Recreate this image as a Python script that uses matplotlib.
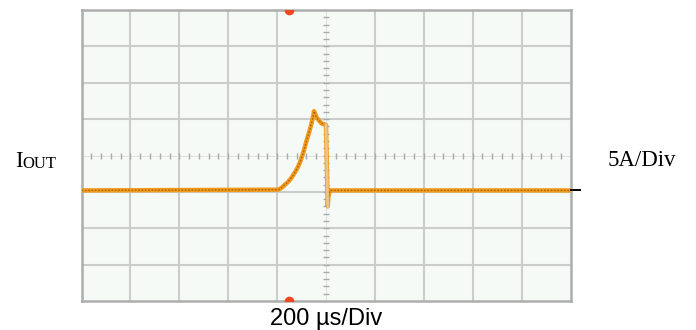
import matplotlib
matplotlib.use("Agg")
import matplotlib.pyplot as plt
import numpy as np

# Output current capture: time in microseconds, current in amperes
time_us = [-1000, -195, -180, -168, -157, -147, -136, -125, -115, -106, -92,
           -79, -68, -58, -52, -49, -44, -40, -31, -18, -8, 0, 7, 10, 16, 1000]
current_a = [0.0, 0.1, 0.4, 0.8, 1.1, 1.5, 2.0, 2.6, 3.2, 3.9, 5.3,
             6.9, 8.1, 9.4, 10.3, 10.9, 10.5, 10.1, 9.7, 9.2, 9.1, 9.0,
             -2.2, -0.8, 0.0, 0.0]

time_per_div = 200      # µs/div
amps_per_div = 5        # A/div
n_xdiv, n_ydiv = 10, 8
trigger_us = -151
y_center = 4.8          # A at the screen centre line

fig = plt.figure(figsize=(6.96, 3.30), dpi=100)
ax = fig.add_axes([81.5 / 696, 29 / 330, 489 / 696, 291 / 330])

x0 = -time_per_div * n_xdiv / 2
x1 = time_per_div * n_xdiv / 2
y0 = y_center - amps_per_div * n_ydiv / 2
y1 = y_center + amps_per_div * n_ydiv / 2
ax.set_xlim(x0, x1)
ax.set_ylim(y0, y1)
ax.set_facecolor("#F5FAF7")

# graticule
grid_c = "#CACDCC"
for i in range(1, n_xdiv):
    if i != n_xdiv // 2:
        ax.axvline(x0 + i * time_per_div, color=grid_c, lw=1.5, zorder=1)
for j in range(1, n_ydiv):
    if j != n_ydiv // 2:
        ax.axhline(y0 + j * amps_per_div, color=grid_c, lw=1.5, zorder=1)

# centre cross with minor ticks
ax.axvline(0, color="#DDE0DF", lw=0.7, zorder=1)
ax.axhline(y_center, color="#DDE0DF", lw=0.7, zorder=1)
xt = [x0 + k * time_per_div / 5 for k in range(1, n_xdiv * 5)]
yt = [y0 + k * amps_per_div / 5 for k in range(1, n_ydiv * 5)]
ax.plot(xt, [y_center] * len(xt), ls="none", marker="|", ms=4, mew=1.0,
        color="#A8AAAA", zorder=2)
ax.plot([0] * len(yt), yt, ls="none", marker="_", ms=4, mew=1.0,
        color="#A8AAAA", zorder=2)

for s in ax.spines.values():
    s.set_color("#ABAEAD")
    s.set_linewidth(1.8)
ax.set_xticks([])
ax.set_yticks([])

# trace
ax.plot(time_us, current_a, color="#F29A1C", lw=3.2, zorder=4,
        solid_joinstyle="round")
ax.plot(time_us, current_a, color="#8A5206", lw=1.0, ls=(0, (1.2, 1.2)),
        alpha=0.7, zorder=5)
# fast falling edge appears dimmer
ax.plot(time_us[21:23], current_a[21:23], color="#EDC58C", lw=2.0, zorder=6)

# trigger position markers
ax.plot([trigger_us, trigger_us], [y1, y0], ls="none", marker="o", ms=6,
        color="#EE4A1E", zorder=7, clip_on=True)

# ground level marker on right edge
ax.plot([x1, x1 + 0.02 * (x1 - x0)], [0, 0], color="black", lw=1.4,
        clip_on=False, zorder=8)

# labels
fig.text(15.5 / 696, 1 - 167 / 330, "I", family="Liberation Serif",
         fontsize=16.5, va="baseline", ha="left")
fig.text(22 / 696, 1 - 167.5 / 330, "OUT", family="Liberation Serif",
         fontsize=12, va="baseline", ha="left")
fig.text(608 / 696, 1 - 166 / 330, "5A/Div", family="Liberation Serif",
         fontsize=16.5, va="baseline", ha="left")
fig.text(326 / 696, 1 - 325 / 330, "200 µs/Div", family="Liberation Sans",
         fontsize=17, va="baseline", ha="center")

fig.savefig("out.png", dpi=100, facecolor="white")
